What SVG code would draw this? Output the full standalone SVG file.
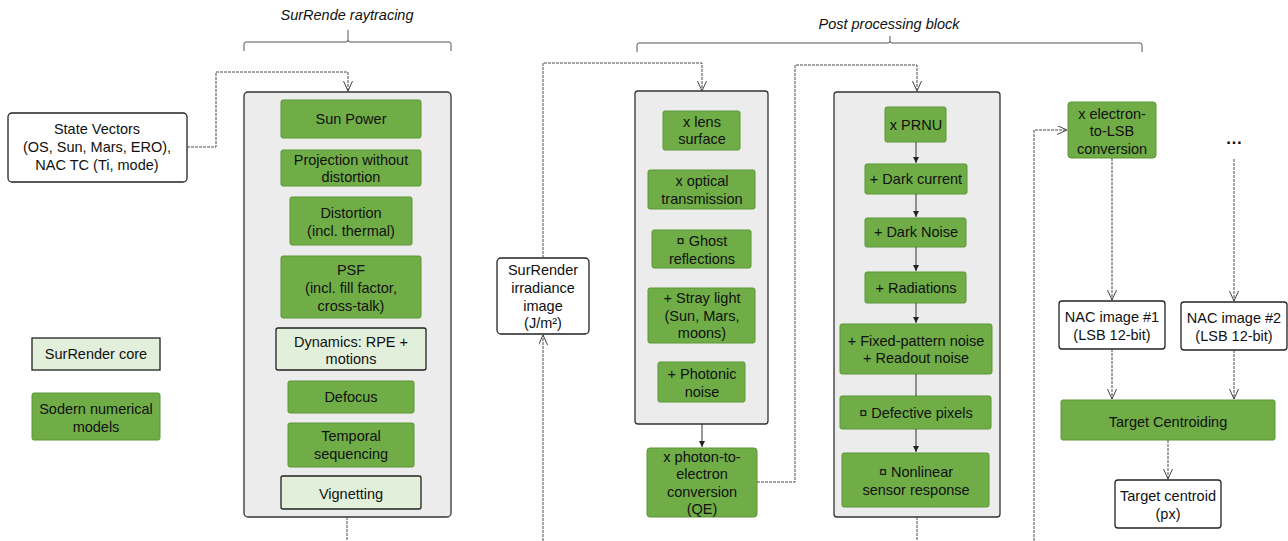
<svg xmlns="http://www.w3.org/2000/svg" width="1288" height="541" viewBox="0 0 1288 541">
<style>
text{font-family:"Liberation Sans",Arial,sans-serif;font-size:14.5px;fill:#111;text-anchor:middle}
.t{font-style:italic}
.g{fill:#70ad47;stroke:#5a9636;stroke-width:1}
.lg{fill:#e2efda;stroke:#222;stroke-width:1.3}
.w{fill:#fff;stroke:#222;stroke-width:1.3}
.p{fill:#ececec;stroke:#333;stroke-width:1.3}
.c{fill:none;stroke:#4a4a4a;stroke-width:1;stroke-dasharray:3 1}
.ci{fill:none;stroke:#333;stroke-width:1}
.b{fill:none;stroke:#555;stroke-width:1}
</style>
<defs>
<marker id="open" markerUnits="userSpaceOnUse" markerWidth="11" markerHeight="10" refX="10" refY="4.5" orient="auto">
<path d="M0,0 L10,4.5 L0,9" fill="none" stroke="#444" stroke-width="1"/>
</marker>
<marker id="fill" markerUnits="userSpaceOnUse" markerWidth="7" markerHeight="7" refX="6" refY="3" orient="auto">
<path d="M0,0 L6,3 L0,6 Z" fill="#222"/>
</marker>
</defs>

<g id="titles">
<text class="t" x="347" y="20">SurRende raytracing</text>
<text class="t" x="889" y="29">Post processing block</text>
<path class="b" d="M244,51 V44 Q244,42 246,42 H346 Q348,42 348,40 V30 M348,40 Q348,42 350,42 H449 Q451,42 451,44 V51"/>
<path class="b" d="M637,52 V45 Q637,43 639,43 H888 Q890,43 890,41 V36 M890,41 Q890,43 892,43 H1140 Q1142,43 1142,45 V52"/>
</g>

<g id="state-vectors">
<rect class="w" x="8" y="113" width="179" height="69" rx="4"/>
<text x="97" y="134">State Vectors</text>
<text x="97" y="152">(OS, Sun, Mars, ERO),</text>
<text x="97" y="170">NAC TC (Ti, mode)</text>
</g>

<g id="legend-core">
<rect class="lg" x="32" y="338" width="128" height="32"/>
<text x="96" y="359">SurRender core</text>
</g>
<g id="legend-sodern">
<rect class="g" x="32" y="393" width="128" height="47" rx="2"/>
<text x="96" y="414">Sodern numerical</text>
<text x="96" y="432">models</text>
</g>

<g id="surrender-panel">
<rect class="p" x="244" y="92" width="207" height="425" rx="4"/>
</g>
<g id="sun-power">
<rect class="g" x="281" y="100" width="140" height="38" rx="2"/>
<text x="351" y="124">Sun Power</text>
</g>
<g id="projection">
<rect class="g" x="281" y="150" width="140" height="36" rx="2"/>
<text x="351" y="165">Projection without</text>
<text x="351" y="182">distortion</text>
</g>
<g id="distortion">
<rect class="g" x="290" y="197" width="122" height="48" rx="2"/>
<text x="351" y="218">Distortion</text>
<text x="351" y="236">(incl. thermal)</text>
</g>
<g id="psf">
<rect class="g" x="281" y="256" width="140" height="62" rx="2"/>
<text x="351" y="275">PSF</text>
<text x="351" y="293">(incl. fill factor,</text>
<text x="351" y="311">cross-talk)</text>
</g>
<g id="dynamics">
<rect class="lg" x="276" y="328" width="150" height="42" rx="2"/>
<text x="351" y="347">Dynamics: RPE +</text>
<text x="351" y="364">motions</text>
</g>
<g id="defocus">
<rect class="g" x="288" y="381" width="126" height="32" rx="2"/>
<text x="351" y="402">Defocus</text>
</g>
<g id="temporal">
<rect class="g" x="288" y="423" width="126" height="44" rx="2"/>
<text x="351" y="441">Temporal</text>
<text x="351" y="459">sequencing</text>
</g>
<g id="vignetting">
<rect class="lg" x="281" y="476" width="140" height="33" rx="2"/>
<text x="351" y="499">Vignetting</text>
</g>

<g id="irradiance">
<rect class="w" x="497" y="258" width="92" height="76" rx="4"/>
<text x="543" y="275">SurRender</text>
<text x="543" y="293">irradiance</text>
<text x="543" y="311">image</text>
<text x="543" y="328">(J/m²)</text>
</g>

<g id="optics-panel">
<rect class="p" x="635" y="91" width="133" height="333" rx="3"/>
</g>
<g id="lens">
<rect class="g" x="663" y="111" width="77" height="39" rx="2"/>
<text x="702" y="127">x lens</text>
<text x="702" y="144">surface</text>
</g>
<g id="optical">
<rect class="g" x="648" y="170" width="107" height="39" rx="2"/>
<text x="702" y="186">x optical</text>
<text x="702" y="204">transmission</text>
</g>
<g id="ghost">
<rect class="g" x="652" y="230" width="99" height="38" rx="2"/>
<text x="702" y="246">¤ Ghost</text>
<text x="702" y="264">reflections</text>
</g>
<g id="stray">
<rect class="g" x="648" y="288" width="107" height="55" rx="2"/>
<text x="702" y="303">+ Stray light</text>
<text x="702" y="321">(Sun, Mars,</text>
<text x="702" y="338">moons)</text>
</g>
<g id="photonic">
<rect class="g" x="658" y="362" width="87" height="40" rx="2"/>
<text x="702" y="379">+ Photonic</text>
<text x="702" y="397">noise</text>
</g>
<g id="qe">
<rect class="g" x="647" y="448" width="110" height="69" rx="3"/>
<text x="702" y="462">x photon-to-</text>
<text x="702" y="479">electron</text>
<text x="702" y="497">conversion</text>
<text x="702" y="514">(QE)</text>
</g>

<g id="sensor-panel">
<rect class="p" x="834" y="92" width="166" height="425" rx="3"/>
</g>
<g id="prnu">
<rect class="g" x="885" y="107" width="61" height="35" rx="2"/>
<text x="916" y="130">x PRNU</text>
</g>
<g id="dark-current">
<rect class="g" x="865" y="164" width="102" height="30" rx="2"/>
<text x="916" y="184">+ Dark current</text>
</g>
<g id="dark-noise">
<rect class="g" x="865" y="218" width="101" height="29" rx="2"/>
<text x="916" y="237">+ Dark Noise</text>
</g>
<g id="radiations">
<rect class="g" x="865" y="272" width="101" height="31" rx="2"/>
<text x="916" y="293">+ Radiations</text>
</g>
<g id="fixed-pattern">
<rect class="g" x="840" y="324" width="152" height="50" rx="2"/>
<text x="916" y="346">+ Fixed-pattern noise</text>
<text x="916" y="363">+ Readout noise</text>
</g>
<g id="defective">
<rect class="g" x="840" y="396" width="151" height="33" rx="2"/>
<text x="916" y="418">¤ Defective pixels</text>
</g>
<g id="nonlinear">
<rect class="g" x="842" y="453" width="147" height="54" rx="2"/>
<text x="916" y="477">¤ Nonlinear</text>
<text x="916" y="495">sensor response</text>
</g>

<g id="electron-lsb">
<rect class="g" x="1068" y="102" width="88" height="56" rx="3"/>
<text x="1112" y="119">x electron-</text>
<text x="1112" y="136">to-LSB</text>
<text x="1112" y="154">conversion</text>
</g>
<g id="ellipsis">
<text x="1234" y="144" style="font-size:17px;font-weight:bold">…</text>
</g>
<g id="nac1">
<rect class="w" x="1059" y="301" width="106" height="48" rx="3"/>
<text x="1112" y="322">NAC image #1</text>
<text x="1112" y="340">(LSB 12-bit)</text>
</g>
<g id="nac2">
<rect class="w" x="1181" y="302" width="106" height="48" rx="3"/>
<text x="1234" y="323">NAC image #2</text>
<text x="1234" y="341">(LSB 12-bit)</text>
</g>
<g id="target-centroiding">
<rect class="g" x="1061" y="400" width="214" height="40" rx="2"/>
<text x="1168" y="427">Target Centroiding</text>
</g>
<g id="target-centroid">
<rect class="w" x="1115" y="480" width="106" height="48" rx="3"/>
<text x="1168" y="501">Target centroid</text>
<text x="1168" y="519">(px)</text>
</g>

<g id="connectors">
<path class="c" d="M187,147 H216 V72 H348 V91" marker-end="url(#open)"/>
<path class="c" d="M347,517 V541"/>
<path class="c" d="M543,541 V335" marker-end="url(#open)"/>
<path class="c" d="M543,258 V63 H702 V91" marker-end="url(#open)"/>
<path class="ci" d="M702,424 V447" marker-end="url(#fill)"/>
<path class="c" d="M757,482 H795 V65 H917 V91" marker-end="url(#open)"/>
<path class="ci" d="M916,142 V163" marker-end="url(#fill)"/>
<path class="ci" d="M916,194 V217" marker-end="url(#fill)"/>
<path class="ci" d="M916,247 V271" marker-end="url(#fill)"/>
<path class="ci" d="M916,303 V323" marker-end="url(#fill)"/>
<path class="ci" d="M916,374 V396"/>
<path class="ci" d="M916,429 V452" marker-end="url(#fill)"/>
<path class="c" d="M917,517 V541"/>
<path class="c" d="M1034,541 V130 H1067" marker-end="url(#open)"/>
<path class="c" d="M1112,158 V300" marker-end="url(#open)"/>
<path class="c" d="M1234,159 V301" marker-end="url(#open)"/>
<path class="c" d="M1112,349 V399" marker-end="url(#open)"/>
<path class="c" d="M1234,350 V399" marker-end="url(#open)"/>
<path class="c" d="M1168,440 V479" marker-end="url(#open)"/>
</g>
</svg>
